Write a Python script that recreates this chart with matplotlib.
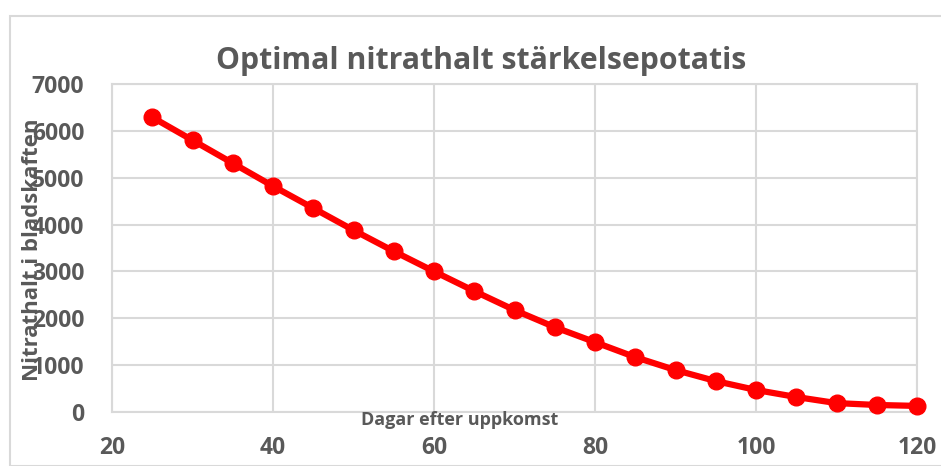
import matplotlib
matplotlib.use("Agg")
import matplotlib.pyplot as plt
from matplotlib.patches import Rectangle

# data
dagar = [25, 30, 35, 40, 45, 50, 55, 60, 65, 70, 75, 80, 85, 90, 95, 100, 105, 110, 115, 120]
nitrat = [6290, 5800, 5310, 4820, 4350, 3880, 3430, 3000, 2580, 2175, 1810, 1490, 1170, 895,
          660, 470, 320, 190, 150, 130]
xticks = [20, 40, 60, 80, 100, 120]
yticks = [0, 1000, 2000, 3000, 4000, 5000, 6000, 7000]

plt.rcParams['font.family'] = ['Open Sans', 'DejaVu Sans']
grey = '#595959'
gridc = '#d9d9d9'

fig = plt.figure(figsize=(9.41, 4.66), dpi=100)
W, H = 941, 466

# outer chart border
fig.patches.append(Rectangle((10 / W, 0), 1, 1 - 16 / H, transform=fig.transFigure,
                             fill=False, edgecolor=gridc, linewidth=1.5))

ax = fig.add_axes([112 / W, 54 / H, (917 - 112) / W, (412 - 84) / H])
ax.plot(dagar, nitrat, color='#ff0000', linewidth=4.5, marker='o', markersize=12,
        clip_on=False, zorder=3)

ax.set_xlim(20, 120)
ax.set_ylim(0, 7000)
ax.set_xticks(xticks)
ax.set_yticks(yticks)
ax.grid(True, color=gridc, linewidth=1.5)
ax.set_axisbelow(True)
for s in ax.spines.values():
    s.set_color(gridc)
    s.set_linewidth(1.5)
ax.tick_params(length=0, labelsize=16.5, labelcolor=grey)
ax.tick_params(axis='x', pad=17)
ax.tick_params(axis='y', pad=20)
for lab in ax.get_xticklabels() + ax.get_yticklabels():
    lab.set_fontweight('bold')

fig.text(481 / W, 1 - 61 / H, 'Optimal nitrathalt stärkelsepotatis', ha='center', va='center',
         fontsize=21.8, fontweight='bold', color=grey)
fig.text(460 / W, 1 - 420 / H, 'Dagar efter uppkomst', ha='center', va='center',
         fontsize=13, fontweight='bold', color=grey)
fig.text(33 / W, 1 - 250 / H, 'Nitrathalt i bladskaften', ha='center', va='center',
         rotation=90, fontsize=16, fontweight='bold', color=grey)

fig.savefig('out.png', dpi=100)
